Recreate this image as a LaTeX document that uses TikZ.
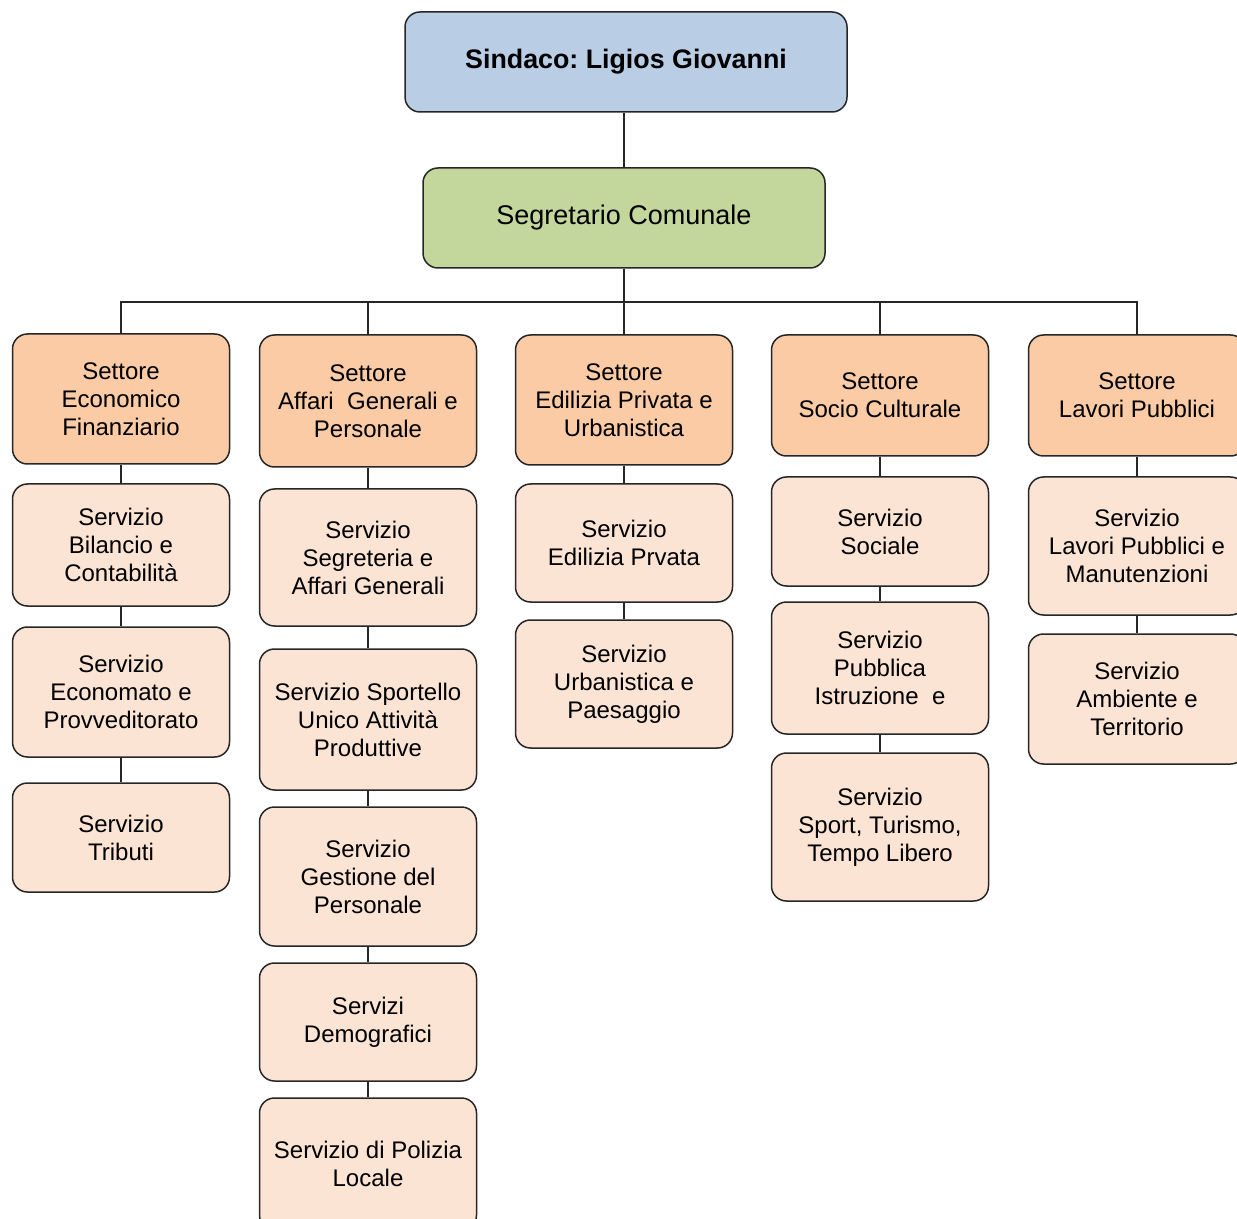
\documentclass[tikz,border=0pt]{standalone}
\usepackage{fontspec}
\setmainfont{Liberation Sans}
\usepackage{tikz}
\frenchspacing

\definecolor{sindblue}{HTML}{B9CDE5}
\definecolor{segrgreen}{HTML}{C3D69B}
\definecolor{settorefill}{HTML}{FACBA4}
\definecolor{serviziofill}{HTML}{FCE4D4}
\definecolor{linegray}{HTML}{262626}

\tikzset{
    box/.style={draw=linegray, line width=0.75pt, rounded corners=7.5pt, align=center, inner sep=0pt,
        font=\fontsize{12}{14}\selectfont},
    settore/.style={box, fill=settorefill, minimum width=108.5pt},
    servizio/.style={box, fill=serviziofill, minimum width=108.5pt},
    conn/.style={draw=linegray, line width=0.75pt}
}

\begin{document}
\begin{tikzpicture}[x=0.5pt, y=-0.5pt]
        \useasboundingbox (0,0) rectangle (1237,1219);
        % vertice
        \node[box, fill=sindblue, minimum width=221pt, minimum height=50pt, font=\bfseries\fontsize{13.4}{16}\selectfont] (sind) at (626,62) {Sindaco: Ligios Giovanni};
        \node[box, fill=segrgreen, minimum width=201pt, minimum height=50pt, font=\fontsize{13.5}{16}\selectfont] (segr) at (624,218) {Segretario Comunale};
        \coordinate (bus) at (624,302);
        % settori
        \node[settore, minimum height=65pt] (sef) at (121,399) {Settore\\Economico\\Finanziario};
        \node[settore, minimum height=66pt] (sag) at (368,401) {Settore\\Affari~ Generali e\\Personale};
        \node[settore, minimum height=65pt] (sed) at (624,400) {Settore\\Edilizia Privata e\\Urbanistica};
        \node[settore, minimum height=60.5pt] (ssc) at (880,395.5) {Settore\\Socio Culturale};
        \node[settore, minimum height=60.5pt] (slp) at (1137,395.5) {Settore\\Lavori Pubblici};
        % servizi, colonna 1
        \node[servizio, minimum height=61pt] (bil) at (121,545) {Servizio\\Bilancio e\\Contabilità};
        \node[servizio, minimum height=65pt] (econ) at (121,692) {Servizio\\Economato e\\Provveditorato};
        \node[servizio, minimum height=54.5pt] (trib) at (121,837.5) {Servizio\\Tributi};
        % colonna 2
        \node[servizio, minimum height=68.5pt] (segre) at (368,557.5) {Servizio\\Segreteria e\\Affari Generali};
        \node[servizio, minimum height=70.5pt] (suap) at (368,719.5) {Servizio Sportello\\Unico Attività\\Produttive};
        \node[servizio, minimum height=69.5pt] (pers) at (368,876.5) {Servizio\\Gestione del\\Personale};
        \node[servizio, minimum height=59pt] (demo) at (368,1022) {Servizi\\Demografici};
        \node[servizio, minimum height=66pt] (pol) at (368,1164) {Servizio di Polizia\\Locale};
        % colonna 3
        \node[servizio, minimum height=59pt] (edil) at (624,543) {Servizio\\Edilizia Prvata};
        \node[servizio, minimum height=64pt] (urb) at (624,684) {Servizio\\Urbanistica e\\Paesaggio};
        % colonna 4
        \node[servizio, minimum height=54.5pt] (soc) at (880,531.5) {Servizio\\Sociale};
        \node[servizio, minimum height=66pt] (istr) at (880,668) {Servizio\\Pubblica\\Istruzione~ e};
        \node[servizio, minimum height=74pt] (sport) at (880,827) {Servizio\\Sport, Turismo,\\Tempo Libero};
        % colonna 5
        \node[servizio, minimum height=69pt] (manut) at (1137,546) {Servizio\\Lavori Pubblici e\\Manutenzioni};
        \node[servizio, minimum height=65pt] (amb) at (1137,699) {Servizio\\Ambiente e\\Territorio};
        % collegamenti
        \draw[conn] (segr.north) -- (segr.north |- sind.south);
        \draw[conn] (segr) -- (bus);
        \foreach \s in {sef,sag,sed,ssc,slp}
            \draw[conn] (\s) |- (bus);
        \foreach \a/\b in {sef/bil, bil/econ, econ/trib,
                sag/segre, segre/suap, suap/pers, pers/demo, demo/pol,
                sed/edil, edil/urb,
                ssc/soc, soc/istr, istr/sport,
                slp/manut, manut/amb}
            \draw[conn] (\a) -- (\b);
    \end{tikzpicture}
\end{document}
